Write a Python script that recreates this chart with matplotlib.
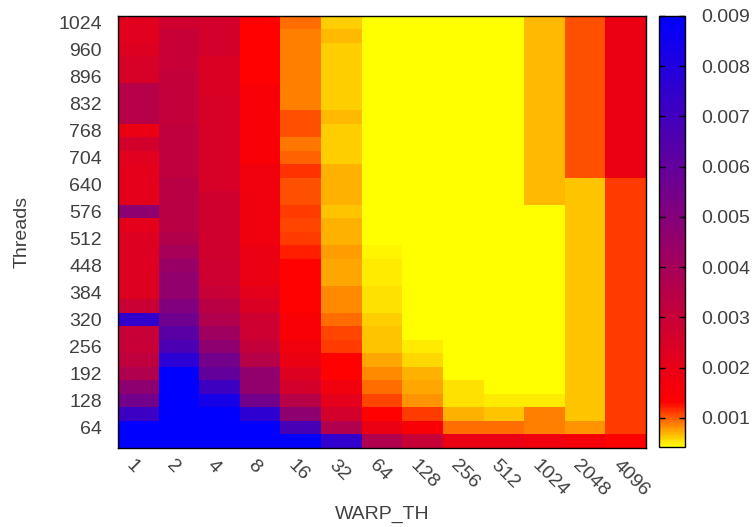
import matplotlib
matplotlib.use("Agg")
import matplotlib.pyplot as plt
import matplotlib.transforms as mtransforms
from matplotlib.colors import LinearSegmentedColormap, Normalize
import numpy as np

# x categories (WARP_TH) and y rows (Threads)
WARP_TH = ["1", "2", "4", "8", "16", "32", "64", "128", "256", "512", "1024", "2048", "4096"]
THREADS = list(range(1024, 0, -32))  # 1024 at the top, down to 32

# one list per WARP_TH column, rows listed from Threads=1024 down to Threads=32
w1 = [0.0022, 0.0022, 0.0023, 0.0025, 0.0025, 0.0035, 0.0035, 0.0035,
      0.0019, 0.0026, 0.0022, 0.0021, 0.0021, 0.0021, 0.0047, 0.0021,
      0.0023, 0.0023, 0.0023, 0.0023, 0.0023, 0.0029, 0.0075, 0.0030,
      0.0030, 0.0032, 0.0037, 0.0047, 0.0055, 0.0072, 0.0095, 0.0095]
w2 = [0.0027, 0.0030, 0.0030, 0.0030, 0.0031, 0.0031, 0.0031, 0.0031,
      0.0032, 0.0032, 0.0032, 0.0032, 0.0034, 0.0034, 0.0034, 0.0034,
      0.0036, 0.0040, 0.0044, 0.0046, 0.0046, 0.0051, 0.0056, 0.0063,
      0.0067, 0.0077, 0.0095, 0.0095, 0.0095, 0.0095, 0.0095, 0.0095]
w4 = [0.0026, 0.0026, 0.0026, 0.0024, 0.0024, 0.0024, 0.0025, 0.0025,
      0.0025, 0.0025, 0.0025, 0.0025, 0.0025, 0.0027, 0.0027, 0.0027,
      0.0027, 0.0027, 0.0028, 0.0028, 0.0030, 0.0034, 0.0037, 0.0042,
      0.0047, 0.0055, 0.0060, 0.0071, 0.0083, 0.0095, 0.0095, 0.0095]
w8 = [0.0013, 0.0013, 0.0013, 0.0013, 0.0013, 0.0015, 0.0015, 0.0015,
      0.0015, 0.0015, 0.0015, 0.0017, 0.0017, 0.0017, 0.0017, 0.0017,
      0.0017, 0.0019, 0.0019, 0.0019, 0.0021, 0.0024, 0.0028, 0.0028,
      0.0031, 0.0035, 0.0046, 0.0046, 0.0055, 0.0076, 0.0095, 0.0095]
w16 = [0.00093, 0.00086, 0.00086, 0.00086, 0.00086, 0.00086, 0.00086, 0.00105,
       0.00105, 0.00091, 0.00096, 0.00113, 0.00105, 0.00105, 0.00111, 0.00108,
       0.00110, 0.00120, 0.0013, 0.0013, 0.0013, 0.0013, 0.0015, 0.0015,
       0.0017, 0.0019, 0.0023, 0.0026, 0.0035, 0.0047, 0.0068, 0.0095]
w32 = [0.00061, 0.00068, 0.00060, 0.00060, 0.00060, 0.00060, 0.00060, 0.00067,
       0.00060, 0.00060, 0.00060, 0.00072, 0.00072, 0.00072, 0.00065, 0.00070,
       0.00070, 0.00078, 0.00075, 0.00075, 0.00085, 0.00085, 0.00093, 0.00106,
       0.00112, 0.0013, 0.0013, 0.0017, 0.0021, 0.0026, 0.0037, 0.0075]
w64 = [0.0004] * 17 + [0.00048, 0.00050, 0.00050, 0.00054, 0.00054, 0.00059, 0.00064,
                       0.00064, 0.00075, 0.00083, 0.00093, 0.00108, 0.0013, 0.0019, 0.0037]
w128 = [0.0004] * 24 + [0.00050, 0.00057, 0.00069, 0.00075, 0.00082, 0.00112, 0.0015, 0.0030]
w256 = [0.0004] * 27 + [0.00055, 0.00055, 0.00072, 0.00093, 0.0019]
w512 = [0.0004] * 28 + [0.00050, 0.00064, 0.00093, 0.0019]
w1024 = [0.00066] * 14 + [0.0004] * 14 + [0.00050, 0.00086, 0.00086, 0.0017]
w2048 = [0.00104] * 12 + [0.00065] * 18 + [0.00080, 0.0016]
w4096 = [0.0019] * 12 + [0.00112] * 19 + [0.0013]

CBAR_TICKS = [0.001, 0.002, 0.003, 0.004, 0.005, 0.006, 0.007, 0.008, 0.009]

TEXT = "#404040"
plt.rcParams["font.family"] = ["Liberation Sans", "DejaVu Sans"]
plt.rcParams["font.size"] = 14

grid = np.array([w1, w2, w4, w8, w16, w32, w64, w128, w256, w512, w1024, w2048, w4096]).T

# gnuplot-like palette: yellow -> red -> blue
vmin, vmax = 0.00042, 0.009
red_pos = (0.0013 - vmin) / (vmax - vmin)
cmap = LinearSegmentedColormap.from_list(
    "gp", [(0.0, "#ffff00"), (red_pos, "#ff0000"), (1.0, "#0000ff")]
)
norm = Normalize(vmin=vmin, vmax=vmax)

W, H = 753, 527
fig = plt.figure(figsize=(W / 100, H / 100), dpi=100)
ax = fig.add_axes([118 / W, 1 - 448 / H, (646 - 118) / W, (448 - 16) / H])

im = ax.imshow(grid, cmap=cmap, norm=norm, aspect="auto", origin="upper",
               interpolation="nearest",
               extent=(-0.5, len(WARP_TH) - 0.5, 16, 1040))

ax.set_yticks(range(64, 1025, 64))
ax.set_xticks(range(len(WARP_TH)))
ax.set_xticklabels(WARP_TH, rotation=-45, ha="left", va="top", rotation_mode="anchor")
ax.tick_params(length=0, colors=TEXT, labelsize=14)
ax.tick_params(axis="y", pad=11.5)
ax.tick_params(axis="x", pad=6)

shift = mtransforms.ScaledTranslation(-4 / 100, 0, fig.dpi_scale_trans)
for lab in ax.get_xticklabels():
    lab.set_transform(lab.get_transform() + shift)

for s in ax.spines.values():
    s.set_color("black")
    s.set_linewidth(1.0)

ax.set_xlabel("WARP_TH", color=TEXT, fontsize=14, labelpad=5)
ax.set_ylabel("Threads", color=TEXT, fontsize=14, labelpad=20)

cax = fig.add_axes([659 / W, 1 - 447 / H, 26 / W, (447 - 16) / H])
cb = fig.colorbar(im, cax=cax, ticks=CBAR_TICKS)
cb.ax.set_yticklabels([f"{t:.3f}" for t in CBAR_TICKS])
cb.ax.tick_params(direction="in", left=True, right=True, labelleft=False,
                  labelright=True, length=4.3, width=1, color="black",
                  labelcolor=TEXT, labelsize=14, pad=12)
cb.outline.set_edgecolor("black")
cb.outline.set_linewidth(1.0)

fig.savefig("out.png", dpi=100)
